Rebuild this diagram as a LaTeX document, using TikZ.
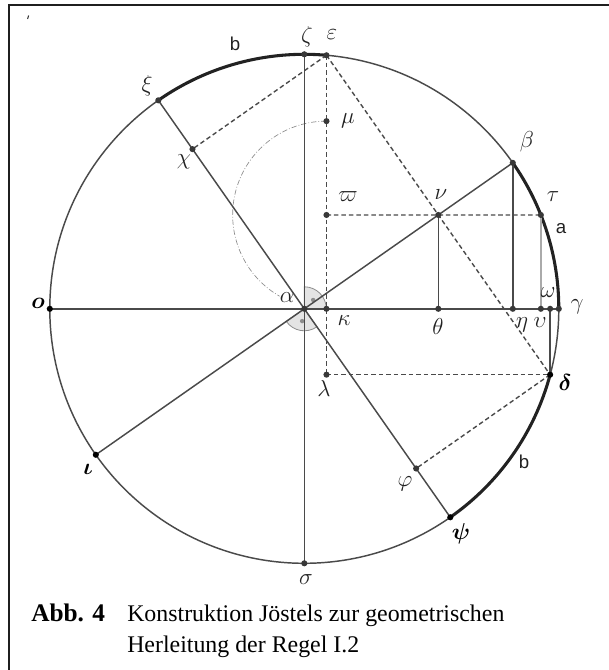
\documentclass[tikz,border=0pt]{standalone}
\usepackage{amsmath}
\usepackage{fontspec}
\setmainfont{Liberation Serif}
\newfontfamily\gsans{Liberation Sans}
\usetikzlibrary{calc}
\definecolor{lncol}{HTML}{4A4A4A}
\definecolor{ptcol}{HTML}{383838}
\definecolor{lblcol}{HTML}{222222}
\definecolor{seccol}{HTML}{E4E4E4}
\definecolor{secline}{HTML}{8C8C8C}
\definecolor{agray}{HTML}{AAAAAA}
\tikzset{
  geoline/.style={draw=lncol, line width=1.1pt},
  thickarc/.style={draw=lblcol, line width=2.3pt},
  dashline/.style={draw=lncol, line width=1.05pt, dash pattern=on 3.4pt off 2.2pt},
  dashdotarc/.style={draw=secline, line width=0.5pt, dash pattern=on 4pt off 1.5pt on 0.6pt off 1.5pt},
  gpt/.style={circle, fill=ptcol, inner sep=0pt, minimum size=4.6pt},
  bpt/.style={circle, fill=black, inner sep=0pt, minimum size=4.6pt},
  lbl/.style={text=lblcol, inner sep=0pt, font=\fontsize{16}{18}\selectfont},
  blbl/.style={text=black, inner sep=0pt, font=\fontsize{16}{18}\selectfont},
  slbl/.style={text=lblcol, inner sep=0pt, font=\gsans\fontsize{14}{16}\selectfont},
  captext/.style={text=black, inner sep=0pt, anchor=base west, font=\fontsize{17.9}{21}\selectfont},
  capbold/.style={text=black, inner sep=0pt, anchor=base west, font=\fontsize{19}{21}\selectfont\bfseries},
  framel/.style={draw=black!88, line width=1.5pt}
}
\begin{document}
\begin{tikzpicture}[x=0.75pt,y=0.75pt]
\useasboundingbox (-304.3,308.8) rectangle (304.7,-361.2);
\def\R{254.5}
\pgfmathsetmacro\ny{\R*(sin(85)-sin(15))/2}
\pgfmathsetmacro\ta{asin((sin(85)-sin(15))/2)}
% points
\coordinate (A) at (0,0);
\coordinate (Zeta) at (90:\R);
\coordinate (Eps) at (85:\R);
\coordinate (Xi) at (125:\R);
\coordinate (Beta) at (35:\R);
\coordinate (Gam) at (0:\R);
\coordinate (O) at (180:\R);
\coordinate (Iota) at (215:\R);
\coordinate (Sig) at (270:\R);
\coordinate (Del) at (-15:\R);
\coordinate (Psi) at (-55:\R);
\coordinate (Nu) at ($(Eps)!0.5!(Del)$);
\coordinate (Tau) at (\ta:\R);
\coordinate (Kap) at (Eps |- A);
\coordinate (Pi) at (Eps |- Nu);
\coordinate (Mu) at ($(Kap)!2!(Pi)$);
\coordinate (Lam) at (Eps |- Del);
\coordinate (The) at (Nu |- A);
\coordinate (Eta) at (Beta |- A);
\coordinate (Ups) at (Tau |- A);
\coordinate (Ome) at (Del |- A);
\coordinate (Chi) at ($(A)!(Eps)!(Xi)$);
\coordinate (Phi) at ($(A)!(Del)!(Psi)$);
% frame
\begin{scope}[shift={(-304.3,308.8)}, yscale=-1]
  \coordinate (FTL) at (9,5.5);
  \coordinate (FTR) at (609,5.5);
  \coordinate (FBL) at (9,670);
  \coordinate (MarkA) at (28.6,15.5);
  \coordinate (MarkB) at (27.6,19);
\end{scope}
\draw[framel] (FTR) -- (FTL) -- (FBL);
\draw[black!80, line width=0.8pt] (MarkA) -- (MarkB);
% right-angle sectors
\filldraw[fill=seccol, draw=secline, line width=0.6pt] (A) -- (0:22) arc (0:90:22) -- cycle;
\filldraw[fill=seccol, draw=secline, line width=0.6pt] (A) -- (215:22) arc (215:305:22) -- cycle;
\fill[secline] (45:12.5) circle (2.2);
\fill[secline] (260:12.5) circle (2.2);
% dash-dot arc
\draw[dashdotarc] (Mu) arc (90:240:\ny);
% circle and thick arcs
\draw[geoline] (A) circle (\R);
\draw[thickarc] (Xi) arc (125:85:\R);
\draw[thickarc] (Del) arc (-15:-55:\R);
\draw[thickarc] (Gam) arc (0:35:\R);
% solid lines
\draw[geoline] (O) -- (Gam);
\draw[geoline] (Zeta) -- (Sig);
\draw[geoline] (Iota) -- (Beta);
\draw[geoline] (Xi) -- (Psi);
\draw[geoline] (Nu) -- (The);
\draw[geoline] (Beta) -- (Eta);
\draw[geoline] (Ome) -- (Del);
\draw[draw=agray, line width=1.5pt] (Tau) -- (Ups);
% dashed lines
\draw[dashline] (Eps) -- (Lam);
\draw[dashline] (Eps) -- (Del);
\draw[dashline] (Eps) -- (Chi);
\draw[dashline] (Del) -- (Phi);
\draw[dashline] (Pi) -- (Tau);
\draw[dashline] (Lam) -- (Del);
% point markers
\foreach \p in {Zeta,Eps,Xi,Chi,Mu,Beta,Tau,Nu,Pi,Kap,The,Eta,Ups,Ome,Gam,Lam,Phi,Sig,A}
  \node[gpt] (m\p) at (\p) {};
\foreach \p in {O,Iota,Del,Psi}
  \node[bpt] (m\p) at (\p) {};
% labels (pixel coordinates)
\begin{scope}[shift={(-304.3,308.8)}, yscale=-1]
  \node[lbl] (lZeta) at (307,37) {$\zeta$};
  \node[lbl] (lEps) at (332,35) {$\varepsilon$};
  \node[slbl] (lb1) at (235,44) {b};
  \node[lbl] (lXi) at (147,86) {$\xi$};
  \node[lbl] (lChi) at (184,162) {$\chi$};
  \node[lbl] (lMu) at (348,121) {$\mu$};
  \node[lbl] (lBeta) at (527,142) {$\beta$};
  \node[lbl] (lTau) at (553,197) {$\tau$};
  \node[slbl] (la) at (561,229) {a};
  \node[lbl] (lNu) at (441,195) {$\nu$};
  \node[lbl] (lPi) at (348,197) {$\varpi$};
  \node[lbl] (lOme) at (548,293) {$\omega$};
  \node[lbl] (lGam) at (577,307) {$\gamma$};
  \node[lbl] (lThe) at (438,327) {$\theta$};
  \node[lbl] (lEta) at (522,325) {$\eta$};
  \node[lbl] (lUps) at (540,323) {$\upsilon$};
  \node[lbl] (lKap) at (344,321) {$\kappa$};
  \node[lbl] (lA) at (287,298) {$\alpha$};
  \node[blbl] (lO) at (38,303) {$\boldsymbol{o}$};
  \node[blbl] (lIota) at (88,469) {$\boldsymbol{\iota}$};
  \node[lbl] (lLam) at (324,389) {$\lambda$};
  \node[blbl] (lDel) at (565,383) {$\boldsymbol{\delta}$};
  \node[lbl] (lPhi) at (405,484) {$\varphi$};
  \node[blbl] (lPsi) at (461,534) {$\boldsymbol{\psi}$};
  \node[slbl] (lb2) at (524,462) {b};
  \node[lbl] (lSig) at (306,580) {$\sigma$};
  \node[capbold] (capA) at (31,621.5) {Abb. 4};
  \node[captext] (capB) at (127,621.5) {Konstruktion Jöstels zur geometrischen};
  \node[captext] (capC) at (127,652) {Herleitung der Regel I.2};
\end{scope}
\end{tikzpicture}
\end{document}
